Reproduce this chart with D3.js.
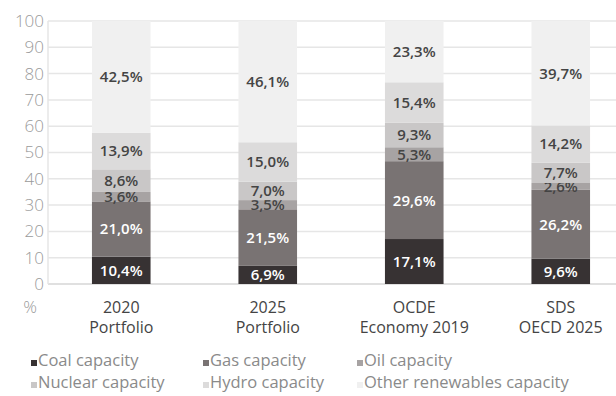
<!DOCTYPE html>
<html>
<head>
<meta charset="utf-8">
<script src="https://cdn.jsdelivr.net/npm/d3@7"></script>
<style>
  body { margin: 0; background: #fff; }
  text { font-family: "Open Sans", "DejaVu Sans Condensed", sans-serif; }
</style>
</head>
<body>
<svg id="chart" width="616" height="396"></svg>
<script>
var categories = [["2020", "Portfolio"], ["2025", "Portfolio"], ["OCDE", "Economy 2019"], ["SDS", "OECD 2025"]];
var seriesNames = ["Coal capacity", "Gas capacity", "Oil capacity", "Nuclear capacity", "Hydro capacity", "Other renewables capacity"];
var coal = [10.4, 6.9, 17.1, 9.6];
var gas = [21.0, 21.5, 29.6, 26.2];
var oil = [3.6, 3.5, 5.3, 2.6];
var nuclear = [8.6, 7.0, 9.3, 7.7];
var hydro = [13.9, 15.0, 15.4, 14.2];
var other = [42.5, 46.1, 23.3, 39.7];
var yTicks = [0, 10, 20, 30, 40, 50, 60, 70, 80, 90, 100];

var colors = ["#373233", "#797373", "#a7a3a3", "#c9c7c7", "#dcdbdb", "#f0f0f0"];
var labelColors = ["#fff", "#fff", "#444", "#444", "#444", "#444"];

var margin = { top: 21, left: 48 },
  height = 263;

var svg = d3.select("#chart");
var g = svg.append("g").attr("transform", "translate(" + margin.left + "," + margin.top + ")");

var allSeries = [coal, gas, oil, nuclear, hydro, other];
var rows = categories.map(function (c, i) {
  var r = { key: i };
  seriesNames.forEach(function (s, j) { r[s] = allSeries[j][i]; });
  return r;
});

var x = d3.scaleBand()
  .domain(d3.range(categories.length))
  .range([0, 586])
  .paddingInner(0.6)
  .paddingOuter(0.3);

var y = d3.scaleLinear().domain([0, 100]).range([height, 0]);

// grid
g.selectAll(".grid")
  .data(yTicks)
  .enter()
  .append("line")
  .attr("x1", 0)
  .attr("x2", 568)
  .attr("y1", function (d) { return y(d); })
  .attr("y2", function (d) { return y(d); })
  .attr("stroke", function (d) { return d == 0 ? "#d6d6d6" : "#e6e6e6"; })
  .attr("stroke-width", 1.5);

g.append("line")
  .attr("x1", 0).attr("x2", 0)
  .attr("y1", y(100)).attr("y2", y(0))
  .attr("stroke", "#e6e6e6")
  .attr("stroke-width", 1.5);

// y axis labels
var yAxis = g.append("g")
  .call(d3.axisLeft(y).tickValues(yTicks).tickSize(0).tickPadding(4));
yAxis.select(".domain").remove();
yAxis.selectAll("text")
  .attr("fill", "#9a9a9a")
  .style("font-size", "17px")
  .style("font-weight", "300")
  .style("font-family", "'Open Sans', sans-serif");

g.append("text")
  .attr("x", -18)
  .attr("y", height + 29)
  .attr("text-anchor", "middle")
  .attr("fill", "#9a9a9a")
  .style("font-size", "17px")
  .style("font-weight", "300")
  .text("%");

var stack = d3.stack().keys(seriesNames);
var layers = stack(rows);

var layer = g.selectAll(".layer")
  .data(layers)
  .enter()
  .append("g")
  .attr("class", "layer");

layer.selectAll("rect")
  .data(function (d) { return d; })
  .enter()
  .append("rect")
  .attr("x", function (d) { return x(d.data.key); })
  .attr("width", x.bandwidth())
  .attr("y", function (d) { return y(d[1]); })
  .attr("height", function (d) { return y(d[0]) - y(d[1]); })
  .attr("fill", function (d) { return colors[this.parentNode.__data__.index]; });

layer.selectAll(".bar-value")
  .data(function (d) { return d; })
  .enter()
  .append("text")
  .attr("class", "bar-value")
  .attr("x", function (d) { return x(d.data.key) + x.bandwidth() / 2; })
  .attr("y", function (d) { return y((d[0] + d[1]) / 2); })
  .attr("dy", "0.36em")
  .attr("text-anchor", "middle")
  .style("font-size", "15px")
  .style("font-weight", "600")
  .attr("fill", function (d) { return labelColors[this.parentNode.__data__.index]; })
  .text(function (d) { return (d[1] - d[0]).toFixed(1).replace(".", ",") + "%"; });

// category labels
categories.forEach(function (c, i) {
  var t = g.append("text")
    .attr("x", x(i) + x.bandwidth() / 2)
    .attr("y", height + 29)
    .attr("text-anchor", "middle")
    .attr("fill", "#444")
    .style("font-size", "16px");
  t.append("tspan").attr("x", x(i) + x.bandwidth() / 2).text(c[0]);
  t.append("tspan").attr("x", x(i) + x.bandwidth() / 2).attr("dy", 20).text(c[1]);
});

// legend
var legendX = [31, 203, 357];
var legendY = [366, 388];
var legend = svg.selectAll(".legend")
  .data(seriesNames)
  .enter()
  .append("g")
  .attr("transform", function (d, i) {
    return "translate(" + legendX[i % 3] + "," + legendY[Math.floor(i / 3)] + ")";
  });
legend.append("rect")
  .attr("x", 0).attr("y", -6)
  .attr("width", 6).attr("height", 6)
  .attr("fill", function (d, i) { return colors[i]; });
legend.append("text")
  .attr("x", 7)
  .attr("y", 0)
  .attr("fill", "#8a8a8a")
  .style("font-size", "16.5px")
  .text(function (d) { return d; });
</script>
</body>
</html>
